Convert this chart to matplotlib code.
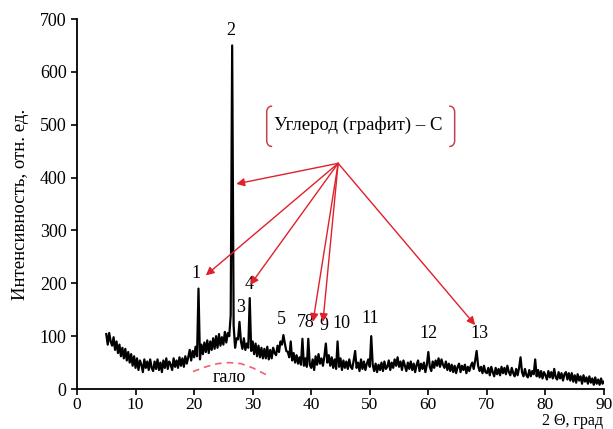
import numpy as np
import matplotlib.pyplot as plt

plt.rcParams['font.family'] = ['Liberation Serif', 'DejaVu Serif']

start_angle = 5.0
step = 0.25
intensity = [
    104, 84, 106, 90,
    82, 98, 74, 90,
    68, 84, 62, 78,
    58, 76, 54, 70,
    50, 66, 44, 62,
    40, 58, 36, 54,
    46, 32, 56, 40,
    52, 36, 56, 40,
    34, 52, 38, 56,
    36, 50, 32, 54,
    40, 58, 38, 52,
    46, 36, 58, 42,
    54, 40, 60, 44,
    58, 42, 62, 48,
    60, 74, 54, 72,
    60, 80, 62, 190,
    56, 84, 66, 88,
    70, 92, 68, 90,
    74, 96, 76, 100,
    78, 104, 82, 98,
    84, 108, 88, 106,
    100, 140, 650, 120,
    78, 96, 94, 127,
    90, 76, 96, 74,
    86, 78, 172, 72,
    90, 66, 86, 62,
    82, 60, 78, 58,
    76, 58, 80, 56,
    74, 58, 78, 68,
    64, 82, 70, 90,
    84, 102, 86, 72,
    70, 60, 90, 54,
    68, 50, 64, 48,
    60, 46, 95, 44,
    58, 42, 95, 46,
    40, 56, 36, 62,
    46, 66, 48, 58,
    44, 62, 86, 50,
    64, 44, 60, 40,
    56, 38, 90, 42,
    58, 36, 54, 40,
    52, 38, 56, 42,
    38, 54, 72, 40,
    50, 34, 56, 38,
    52, 36, 48, 56,
    42, 100, 46, 34,
    48, 32, 46, 36,
    50, 34, 52, 38,
    42, 54, 36, 50,
    40, 56, 44, 60,
    42, 52, 36, 54,
    44, 34, 50, 38,
    52, 36, 48, 32,
    46, 54, 34, 48,
    38, 50, 32, 46,
    70, 42, 34, 52,
    40, 54, 44, 58,
    42, 56, 46, 40,
    52, 36, 48, 34,
    46, 32, 44, 30,
    42, 48, 32, 44,
    36, 46, 30, 42,
    34, 44, 50, 38,
    54, 72, 44, 34,
    42, 30, 44, 32,
    30, 40, 26, 42,
    32, 24, 40, 28,
    38, 26, 42, 30,
    40, 28, 44, 32,
    26, 40, 30, 24,
    38, 26, 40, 60,
    32, 24, 38, 26,
    22, 36, 24, 34,
    28, 56, 24, 36,
    22, 34, 20, 32,
    26, 18, 34, 22,
    32, 20, 38, 22,
    18, 32, 20, 30,
    16, 28, 32, 18,
    30, 16, 30, 14,
    26, 12, 28, 16,
    24, 10, 26, 14,
    22, 10, 24, 12,
    20, 8, 22, 10,
    18, 8, 20, 10,
    14,
]
angle = start_angle + step * np.arange(len(intensity))

# peak numbers and where they are written
peak_labels = ['1', '2', '3', '4', '5', '78', '9', '10', '11', '12', '13']
peak_label_x = [20.4, 26.2, 27.9, 29.4, 34.9, 39.0, 42.2, 45.2, 50.0, 60.0, 68.7]
peak_label_y = [203, 662, 138, 181, 115, 110, 104, 108, 118, 89, 89]

# graphite arrows: one source, several targets
arrow_from = (44.6, 427)
arrow_to_x = [27.2, 22.0, 29.6, 40.3, 42.0, 68.0]
arrow_to_y = [388, 215, 197, 127, 127, 121]

# amorphous halo line
halo_x = [19.8, 22, 24, 26, 28, 30, 32.5]
halo_y = [33, 42, 48, 50, 48, 40, 26]

red = '#e0202a'


def bracket(ax, x, x_end, y_top, y_bot, r=11):
    # square bracket with rounded corners, hooks pointing towards x_end
    th = np.linspace(0, np.pi / 2, 12)
    dx = x_end - x
    xs = np.concatenate([x_end - dx * np.sin(th), x_end - dx * np.cos(th)])
    ys = np.concatenate([y_top - r + r * np.cos(th), y_bot + r - r * np.sin(th)])
    ax.plot(xs, ys, color='#c84050', lw=1.1)


fig = plt.figure(figsize=(6.13, 4.29), dpi=100)
ax = fig.add_axes([0.1256, 0.0932, 0.8597, 0.8625])

ax.plot(angle, intensity, color='black', lw=1.6)
ax.plot(halo_x, halo_y, color='#f06070', lw=1.2, ls=(0, (4, 3)))

for lab, lx, ly in zip(peak_labels, peak_label_x, peak_label_y):
    ax.text(lx, ly, lab, ha='center', va='bottom', fontsize=13)
ax.text(26.0, 21, 'гало', ha='center', va='center', fontsize=13)

for tx, ty in zip(arrow_to_x, arrow_to_y):
    ax.annotate('', xy=(tx, ty), xytext=arrow_from,
                arrowprops=dict(arrowstyle='-|>', color=red, lw=1.0,
                                mutation_scale=12, shrinkA=0, shrinkB=0))

ax.text(48.1, 499, 'Углерод (графит) – С', ha='center', va='center', fontsize=13.5)
bracket(ax, 32.4, 33.2, 535, 459)
bracket(ax, 64.5, 63.7, 535, 459)

ax.set_xlim(0, 90)
ax.set_ylim(0, 700)
ax.set_xticks(range(0, 91, 10))
ax.set_yticks(range(0, 701, 100))
ax.spines['top'].set_visible(False)
ax.spines['right'].set_visible(False)
ax.spines['left'].set_linewidth(1.3)
ax.spines['bottom'].set_linewidth(1.3)
ax.tick_params(direction='out', length=4, width=1.2, labelsize=13)
ax.tick_params(axis='x', pad=1.5, labelsize=12.5)
ax.set_ylabel('Интенсивность, отн. ед.', fontsize=13.5, labelpad=8)
fig.text(0.984, 0.0, '2 Θ, град', ha='right', va='bottom', fontsize=11.5)

fig.savefig('out.png', dpi=100)
